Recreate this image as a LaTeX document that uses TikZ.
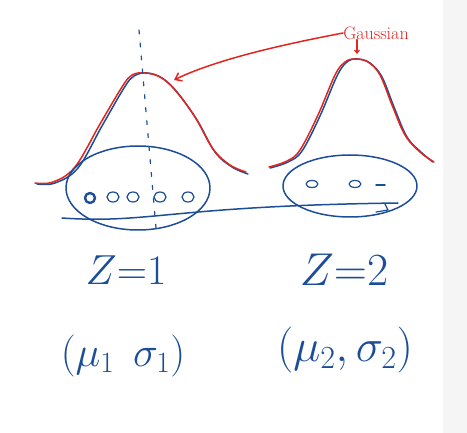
\documentclass[tikz,border=0pt]{standalone}
\usepackage{fix-cm}
\usepackage{amsmath}
\usepackage{amssymb}
\usepackage{tikz}
\usetikzlibrary{arrows.meta}

\definecolor{penblue}{RGB}{28,78,152}
\definecolor{penred}{RGB}{228,36,30}

\tikzset{
    bluepen/.style={draw=penblue, line width=1.5pt, line cap=round, line join=round},
    redpen/.style={draw=penred, line width=1.5pt, line cap=round, line join=round},
    bigtext/.style={text=penblue, font=\fontsize{42}{42}\selectfont, inner sep=0pt},
}

\begin{document}
\begin{tikzpicture}[x=1pt, y=-1pt]
    \useasboundingbox (0,0) rectangle (467,433);
    \fill[black!4] (443,0) rectangle (467,433);

    \draw[bluepen] plot[smooth, tension=0.6] coordinates {(37,184) (55,183) (78,168) (102,126) (124,88) (134,76) (147,73) (162,78) (177,92) (197,120) (215,152) (232,167) (248,174)};
    \draw[redpen] plot[smooth, tension=0.6] coordinates {(35,183) (53,182) (75,167) (100,124) (122,87) (132,75) (145,73) (160,77) (175,90) (195,117) (213,149) (230,165) (246,172)};

    \draw[bluepen] plot[smooth, tension=0.6] coordinates {(270,168) (288,162) (302,151) (320,116) (337,76) (347,62) (357,59) (370,63) (382,77) (394,107) (407,137) (422,153) (433,162)};
    \draw[redpen] plot[smooth, tension=0.6] coordinates {(269,167) (287,161) (300,150) (318,115) (335,75) (345,62) (355,59) (368,62) (380,75) (392,105) (405,135) (420,152) (434,162)};

    \draw[bluepen, line width=1.2pt, dash pattern=on 4pt off 9pt] (139,30) -- (156,228);

    \draw[bluepen] (138,188) ellipse (72 and 42);
    \draw[bluepen] (350,186) ellipse (67 and 31);

    \foreach \p in {113,133,160,188}{
        \draw[bluepen, line width=1.2pt] (\p,197) ellipse (6 and 5);
    }
    \draw[bluepen, line width=2.4pt] (90,198) circle (5);
    \foreach \p in {312,355}{
        \draw[bluepen, line width=1.2pt] (\p,184) ellipse (6 and 3.5);
    }
    \draw[bluepen] (376,185) -- (385,185);

    \draw[bluepen] (62,218) .. controls (150,224) and (170,206) .. (398,203);
    \draw[bluepen, line width=1.2pt] (385,204) -- (388,210) -- (376,212);

    \node[text=penred, font=\fontsize{18}{18}\selectfont, inner sep=0pt] (gauss) at (376,33) {Gaussian};
    \coordinate (peakA) at (174,80);
    \coordinate (peakB) at (357,54);
    \draw[redpen, -{Straight Barb[length=6pt, width=9pt]}] (gauss.west) .. controls (280,45) and (215,60) .. (peakA);
    \draw[redpen, line width=1.2pt, -{Straight Barb[length=3pt, width=5pt]}] ([xshift=-19pt]gauss.south) -- (peakB);

    \node[bigtext] (zone) at (126,270) {$Z{=}1$};
    \node[bigtext, font=\fontsize{46}{46}\selectfont] (ztwo) at (344,270) {$Z{=}2$};
    \node[bigtext] (parone) at (123,356) {$(\mu_1\;\,\sigma_1)$};
    \node[bigtext, font=\fontsize{46}{46}\selectfont] (partwo) at (345,350) {$(\mu_2,\sigma_2)$};
\end{tikzpicture}
\end{document}
